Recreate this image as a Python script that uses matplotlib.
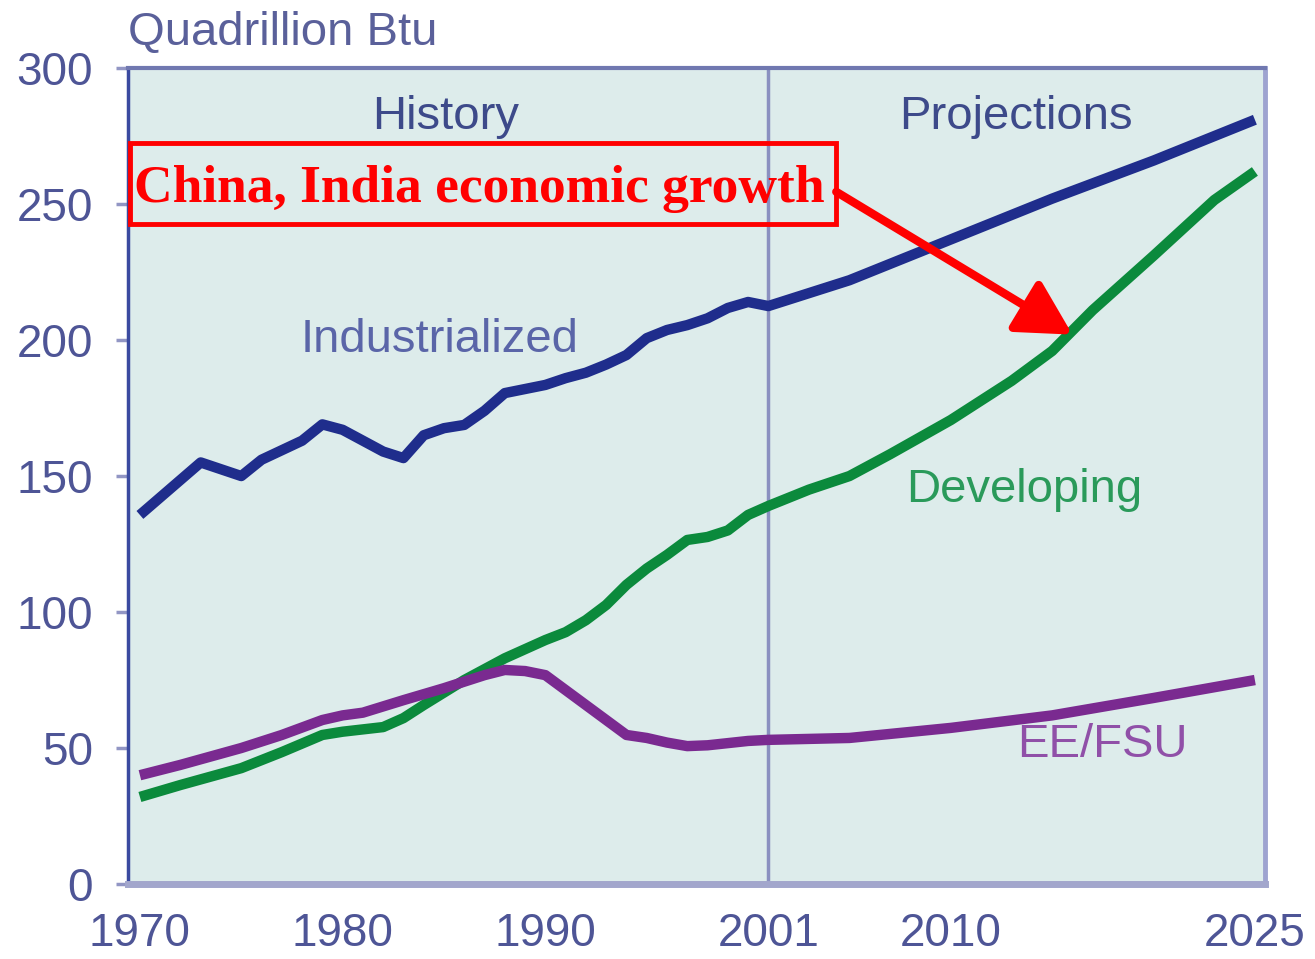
import matplotlib
matplotlib.use("Agg")
import matplotlib.pyplot as plt
from matplotlib.patches import Rectangle

# world energy consumption by region, quadrillion Btu
ind_years = [1970, 1973, 1975, 1976, 1978, 1979, 1980, 1982, 1983, 1984, 1985, 1986,
             1987, 1988, 1989, 1990, 1991, 1992, 1993, 1994, 1995, 1996, 1997, 1998,
             1999, 2000, 2001, 2005, 2010, 2015, 2020, 2025]
ind_vals = [135.7, 155, 150, 156, 163, 169, 167, 159, 156.6, 165, 167.6, 168.8,
            174, 180.5, 182, 183.5, 186, 188, 191, 194.5, 200.7, 203.7, 205.5, 208,
            211.8, 214, 212.5, 222, 237, 252, 266, 281]

dev_years = [1970, 1972, 1975, 1977, 1979, 1980, 1982, 1983, 1984, 1986, 1988, 1990,
             1991, 1992, 1993, 1994, 1995, 1996, 1997, 1998, 1999, 2000, 2001, 2003,
             2005, 2007, 2010, 2013, 2015, 2017, 2020, 2023, 2025]
dev_vals = [32, 36.4, 42.6, 48.5, 54.8, 56, 57.7, 61, 65.8, 75, 83, 89.7,
            92.6, 97, 102.6, 110, 116, 121, 126.5, 127.6, 130, 135.7, 139, 145,
            150, 158, 170.6, 185, 196, 211, 231, 251.5, 262]

ee_years = [1970, 1972, 1975, 1977, 1979, 1980, 1981, 1983, 1985, 1987, 1988, 1989,
            1990, 1991, 1992, 1993, 1994, 1995, 1996, 1997, 1998, 1999, 2000, 2001,
            2005, 2010, 2015, 2020, 2025]
ee_vals = [40, 43.8, 50, 54.8, 60.3, 62, 63, 67.6, 72, 76.8, 78.7, 78.3,
           76.8, 71.3, 65.8, 60.3, 54.8, 53.7, 52, 50.7, 51, 51.8, 52.6, 53,
           53.7, 57.4, 62, 68.4, 75]

xticks = [1970, 1980, 1990, 2001, 2010, 2025]
yticks = [0, 50, 100, 150, 200, 250, 300]

plt.rcParams['font.family'] = ['Liberation Sans', 'DejaVu Sans']

fig = plt.figure(figsize=(13.15, 9.59), dpi=100)
ax = fig.add_axes([0.0973, 0.0782, 0.8647, 0.8508])
ax.set_facecolor("#ddeceb")

line_kw = dict(lw=7.5, solid_capstyle="butt", solid_joinstyle="round")
ax.plot(ind_years, ind_vals, color="#1f2d8c", zorder=3, **line_kw)
ax.plot(dev_years, dev_vals, color="#0b8a3c", zorder=3, **line_kw)
ax.plot(ee_years, ee_vals, color="#7a2a90", zorder=4, **line_kw)

ax.axvline(2001, color="#8a90c0", lw=2.5, zorder=2)

ax.set_xlim(1969.41, 2025.5)
ax.set_ylim(0, 300)
ax.set_xticks(xticks)
ax.set_yticks(yticks)

tick_col = "#4e5596"
ax.tick_params(axis="y", length=9, width=2.5, color="#9296c4", pad=16,
               labelsize=33, labelcolor=tick_col)
ax.tick_params(axis="x", length=0, pad=20, labelsize=33, labelcolor=tick_col)

ax.spines["left"].set_color("#3a4aa0")
ax.spines["left"].set_linewidth(2.5)
ax.spines["top"].set_color("#7078b0")
ax.spines["top"].set_linewidth(3)
ax.spines["right"].set_color("#9ea3d0")
ax.spines["right"].set_linewidth(3.5)
ax.spines["bottom"].set_color("#a2a6cc")
ax.spines["bottom"].set_linewidth(5)

fig.text(0.0973, 0.966, "Quadrillion Btu", fontsize=34, color="#5a609a",
         ha="left", va="center")

ax.text(1985.1, 282, "History", fontsize=34, color="#3d4a8a", ha="center", va="center")
ax.text(2013.2, 282, "Projections", fontsize=34, color="#3d4a8a", ha="center", va="center")
ax.text(1984.8, 200, "Industrialized", fontsize=34, color="#5a65a8", ha="center", va="center")
ax.text(2013.6, 145, "Developing", fontsize=34, color="#2a9a5a", ha="center", va="center")
ax.text(2017.5, 51, "EE/FSU", fontsize=34, color="#9050a8", ha="center", va="center")

# red callout box
ax.add_patch(Rectangle((0.002, 0.8088), 0.6207, 0.0993, transform=ax.transAxes,
                       fill=False, ec="red", lw=3.5, zorder=6, clip_on=False))
ax.text(0.309, 0.852, "China, India economic growth", transform=ax.transAxes,
        fontsize=38.5, fontweight="bold", family=["Liberation Serif", "DejaVu Serif"],
        color="red", ha="center", va="center", zorder=6)

ax.annotate("", xy=(2016, 202), xytext=(2004.35, 254.5),
            arrowprops=dict(arrowstyle="-|>,head_length=1.1,head_width=0.6",
                            color="red", lw=6, mutation_scale=30, shrinkA=0, shrinkB=0),
            zorder=6)

fig.savefig("out.png", dpi=100, facecolor="white")
